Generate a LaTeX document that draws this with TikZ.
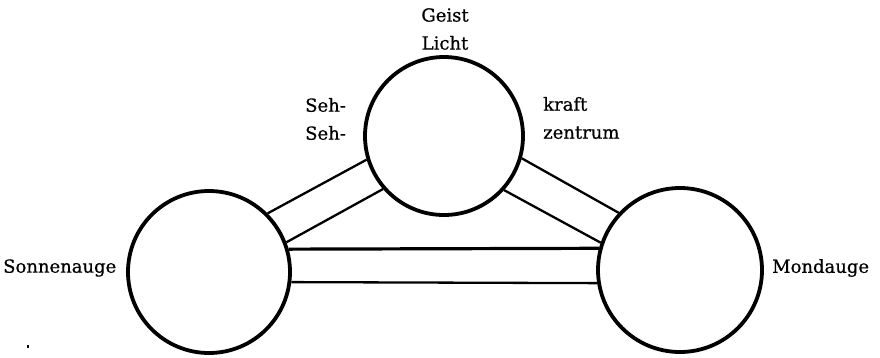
\documentclass[tikz,border=0pt]{standalone}
\usepackage{fontspec}
\setmainfont{DejaVu Serif}
\newfontfamily\lblfont[FakeBold=0.6]{DejaVu Serif}
\begin{document}
\begin{tikzpicture}[x=1pt,y=-1pt,
  ring/.style={circle,draw,line width=3.8pt,inner sep=0pt},
  bar/.style={line width=2.3pt},
  lbl/.style={inner sep=0pt,font=\lblfont\fontsize{18}{28}\selectfont}]
\useasboundingbox (0,0) rectangle (880,357);
\node[ring,minimum size=158pt] (T) at (444,136) {};
\node[ring,minimum size=162pt] (L) at (209,272) {};
\node[ring,minimum size=164pt] (R) at (680,270) {};
% connectors
\draw[bar] (L.45) -- (T.197);
\draw[bar] (L.21.5) -- (T.221);
\draw[bar] (R.137) -- (T.344);
\draw[bar] (R.161) -- (T.318);
\draw[line width=3.2pt] (L.16.5) -- (R.165.2);
\draw[bar] (L.-7.8) -- (R.189);
% labels
\node[lbl,align=center] (geist) at (445,29) {Geist\\Licht};
\node[lbl,align=left,anchor=west] (seh) at (305,119) {Seh-\\Seh-};
\node[lbl,align=left,anchor=west] (kraft) at (543,118) {kraft\\zentrum};
\node[lbl,anchor=west] (sonne) at (3,268) {Sonnenauge};
\node[lbl,anchor=west] (mond) at (772,268) {Mondauge};
\fill (27,345) rectangle (29,348);
\end{tikzpicture}
\end{document}
